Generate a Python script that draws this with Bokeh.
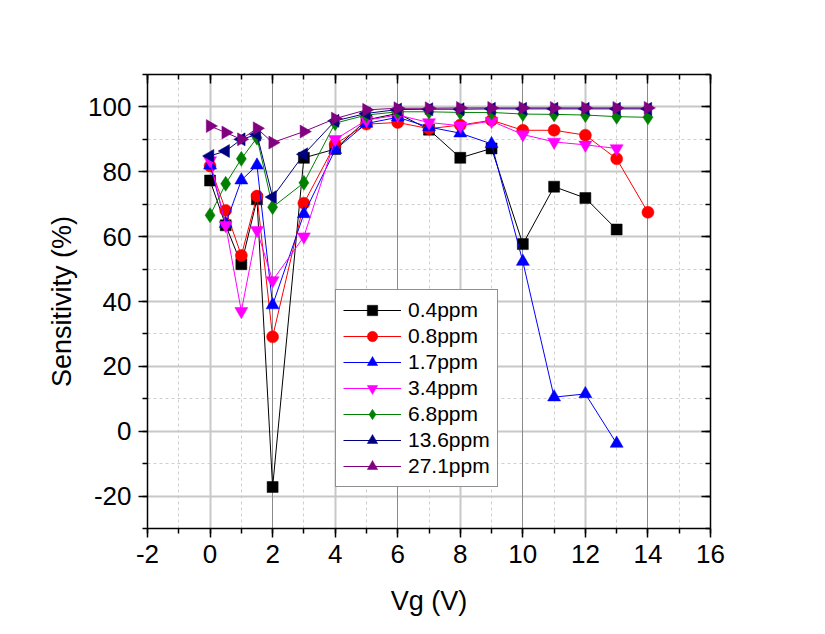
import numpy as np
from bokeh.plotting import figure
from bokeh.models import (Range1d, SingleIntervalTicker, FixedTicker, LinearAxis, Legend,
                          LegendItem, Grid, CustomJSTickFormatter)
from bokeh.embed import file_html
from bokeh.resources import INLINE

FONT = "Liberation Sans"

# ---- data ----
vg_short = [0, 0.5, 1, 1.5, 2, 3, 4, 5, 6, 7, 8, 9, 10, 11, 12, 13]
vg_long = [0, 0.5, 1, 1.5, 2, 3, 4, 5, 6, 7, 8, 9, 10, 11, 12, 13, 14]

s_04 = [77.3, 63.5, 51.5, 71.5, -17.2, 84.3, 87.0, 96.0, 98.0, 93.0, 84.3, 87.2, 57.7, 75.4, 71.9, 62.2]
s_08 = [81.8, 68.1, 54.2, 72.5, 29.1, 70.3, 88.5, 94.7, 95.2, 93.3, 94.4, 95.9, 92.8, 92.8, 91.3, 84.0, 67.5]
s_17 = [82.0, 64.0, 77.4, 82.0, 38.9, 67.0, 86.8, 94.9, 96.8, 93.8, 91.9, 88.6, 52.3, 10.5, 11.5, -3.8]
s_34 = [83.5, 63.5, 37.0, 62.0, 46.5, 60.0, 90.0, 95.9, 97.5, 95.2, 94.2, 95.6, 91.5, 89.2, 88.3, 87.2]
s_68 = [66.6, 76.3, 84.0, 90.5, 69.1, 76.6, 95.0, 97.5, 98.5, 98.5, 98.3, 98.3, 97.8, 97.7, 97.5, 97.0, 96.8]
s_136 = [84.9, 86.4, 90.0, 91.5, 72.2, 85.4, 95.7, 98.0, 99.2, 99.3, 99.3, 99.4, 99.4, 99.4, 99.4, 99.4, 99.4]
s_271 = [94.1, 92.1, 90.0, 93.4, 89.0, 92.4, 96.4, 99.1, 99.6, 99.6, 99.7, 99.7, 99.7, 99.7, 99.7, 99.7, 99.7]

labels = ["0.4ppm", "0.8ppm", "1.7ppm", "3.4ppm", "6.8ppm", "13.6ppm", "27.1ppm"]
series = [(vg_short, s_04), (vg_long, s_08), (vg_short, s_17), (vg_short, s_34),
          (vg_long, s_68), (vg_long, s_136), (vg_long, s_271)]
colors = ["#000000", "#ff0000", "#0000ff", "#ff00ff", "#008000", "#000080", "#800080"]
markers = ["square", "circle", "triangle", "inverted_triangle", "diamond", "triangle", "triangle"]
angles = [0, 0, 0, 0, 0, np.pi / 2, -np.pi / 2]
sizes = [11, 12, 13, 13, 15, 13, 13]

p = figure(width=810, height=618, output_backend="svg", toolbar_location=None,
           x_range=Range1d(-2, 16), y_range=Range1d(-30, 110),
           min_border_left=147, min_border_right=100, min_border_top=74, min_border_bottom=90)
p.outline_line_color = None
p.background_fill_color = "white"

# grids
p.xgrid.ticker = FixedTicker(ticks=[0, 4, 8, 12], minor_ticks=[-1, 1, 3, 5, 7, 9, 11, 13, 15])
p.ygrid.ticker = FixedTicker(ticks=[-20, 0, 20, 40, 60, 80, 100],
                             minor_ticks=[-10, 10, 30, 50, 70, 90])
for g in (p.xgrid, p.ygrid):
    g.grid_line_color = "#c8c8c8"
    g.grid_line_width = 2
    g.minor_grid_line_color = "#cfcfcf"
    g.minor_grid_line_width = 1
    g.minor_grid_line_dash = "3 3"
dark_grid = Grid(dimension=0, ticker=FixedTicker(ticks=[2, 6, 10, 14]),
                 grid_line_color="#8a8a8a", grid_line_width=1)
p.add_layout(dark_grid)

num_fmt = CustomJSTickFormatter(code="return tick.toString()")

# axes
def style_axis(ax, inside):
    ax.axis_line_color = "black"
    ax.axis_line_width = 1.5
    ax.major_tick_line_color = "black"
    ax.minor_tick_line_color = "black"
    ax.major_tick_line_width = 1.5
    ax.minor_tick_line_width = 1.5
    if inside:
        ax.major_tick_in, ax.major_tick_out = 9, 0
        ax.minor_tick_in, ax.minor_tick_out = 5, 0
    else:
        ax.major_tick_in, ax.major_tick_out = 0, 9
        ax.minor_tick_in, ax.minor_tick_out = 0, 5
    ax.major_label_text_font = FONT
    ax.major_label_text_font_size = "26px"
    ax.major_label_text_color = "black"
    ax.axis_label_text_font = FONT
    ax.axis_label_text_font_size = "27px"
    ax.axis_label_text_font_style = "normal"
    ax.axis_label_text_color = "black"

p.xaxis.ticker = SingleIntervalTicker(interval=2, num_minor_ticks=2)
p.yaxis.ticker = SingleIntervalTicker(interval=20, num_minor_ticks=2)
p.xaxis.formatter = num_fmt
p.yaxis.formatter = num_fmt
style_axis(p.xaxis[0], False)
style_axis(p.yaxis[0], False)
p.xaxis.axis_label = "Vg (V)"
p.yaxis.axis_label = "Sensitivity (%)"
p.xaxis.major_label_standoff = 7
p.xaxis.axis_label_standoff = 20
p.yaxis.major_label_standoff = 7
p.yaxis.axis_label_standoff = 8

blank = CustomJSTickFormatter(code="return ''")
top = LinearAxis(ticker=SingleIntervalTicker(interval=2, num_minor_ticks=2), formatter=blank)
right = LinearAxis(ticker=SingleIntervalTicker(interval=20, num_minor_ticks=2), formatter=blank)
style_axis(top, True)
style_axis(right, True)
p.add_layout(top, "above")
p.add_layout(right, "right")

# series
items = []
for (xs, ys), lab, c, m, a, s in zip(series, labels, colors, markers, angles, sizes):
    ln = p.line(xs, ys, line_color=c, line_width=1)
    sc = p.scatter(xs, ys, marker=m, angle=a, size=s, fill_color=c, line_color=c, line_width=0.5)
    items.append(LegendItem(label=lab, renderers=[ln, sc]))

legend = Legend(items=items, location=(188, 41),
                border_line_color="#222222", border_line_width=1.5,
                background_fill_color="white", background_fill_alpha=1.0,
                label_text_font=FONT, label_text_font_size="21px", label_text_color="black",
                glyph_width=58, glyph_height=26, label_height=26, label_standoff=7,
                spacing=0, padding=7, margin=0)
p.add_layout(legend)

open("out.html", "w").write(file_html(p, INLINE))
